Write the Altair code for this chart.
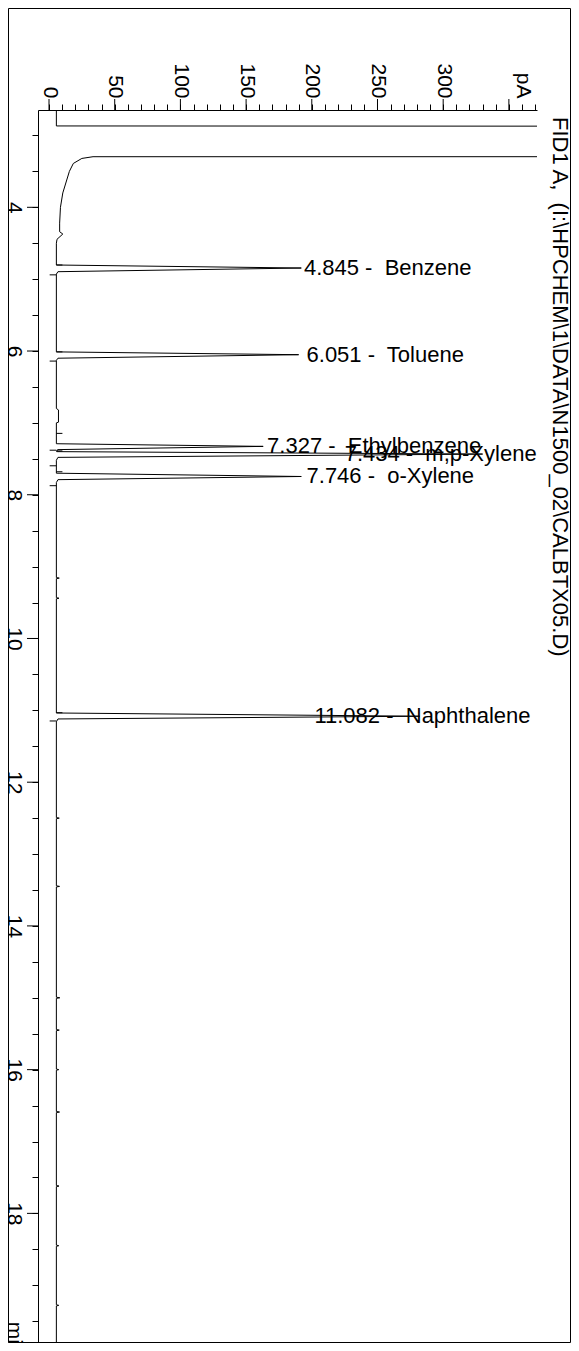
import altair as alt
import pandas as pd

FONT = "Liberation Sans"

# ---- chromatogram trace (time in min, signal in pA) ----
trace_t = [
    2.646, 2.868, 2.871, 2.880, 3.280, 3.294, 3.296, 3.320, 3.390, 3.500,
    3.620, 3.800, 4.000, 4.220, 4.340, 4.372, 4.445, 4.500,
    4.803, 4.845, 4.896, 4.930,
    6.012, 6.051, 6.100, 6.130,
    6.800, 6.820, 6.990, 7.000,
    7.290, 7.327, 7.372, 7.400, 7.434, 7.480, 7.520,
    7.700, 7.746, 7.790, 7.830,
    9.152, 9.160, 9.168, 9.432, 9.440, 9.448,
    11.037, 11.082, 11.120, 11.160,
    12.492, 12.500, 12.508, 13.442, 13.450, 13.458,
    14.992, 15.000, 15.008, 15.442, 15.450, 15.458,
    15.992, 16.000, 16.008, 16.582, 16.590, 16.598,
    17.612, 17.620, 17.628, 18.442, 18.450, 18.458,
    19.272, 19.280, 19.288, 19.846,
]
trace_pa = [
    5.6, 5.6, 400, 3000, 3000, 3000, 33.5, 25.0, 18.5, 15.5,
    13.5, 10.5, 8.7, 8.1, 8.1, 10.5, 6.1, 5.6,
    5.6, 192, 6.8, 5.6,
    5.6, 190, 6.8, 5.6,
    5.6, 7.2, 7.2, 5.6,
    5.6, 163, 6.5, 5.8, 330, 6.8, 5.6,
    5.6, 192, 6.8, 5.6,
    5.6, 7.8, 5.6, 5.6, 7.6, 5.6,
    5.6, 282, 6.8, 5.6,
    5.6, 7.8, 5.6, 5.6, 8.0, 5.6,
    5.6, 8.2, 5.6, 5.6, 7.8, 5.6,
    5.6, 7.4, 5.6, 5.6, 8.0, 5.6,
    5.6, 7.6, 5.6, 5.6, 7.4, 5.6,
    5.6, 7.4, 5.6, 5.6,
]

# ---- peak annotations ----
peak_t = [4.845, 6.051, 7.327, 7.434, 7.746, 11.082]
peak_label_pa = [194, 196, 166, 225, 196, 202]
peak_names = ["Benzene", "Toluene", "Ethylbenzene", "m,p-Xylene", "o-Xylene", "Naphthalene"]
peak_texts = [f"{t:.3f} -\u00a0 {n}" for t, n in zip(peak_t, peak_names)]

# baseline start / end markers of the integrated peaks
marker_start_t = [4.803, 6.012, 7.146, 7.390, 7.680, 11.033]
marker_end_t = [4.940, 6.140, 7.380, 7.597, 7.874, 11.148]

TITLE = "FID1 A,\u00a0 (I:\\HPCHEM\\1\\DATA\\N1500_02\\CALBTX05.D)"

# ---- axes ----
x_ticks = list(range(0, 371, 10))
x_major = [0, 50, 100, 150, 200, 250, 300, 350]
y_ticks = [3.0 + 0.5 * k for k in range(34)]
y_major = [4, 6, 8, 10, 12, 14, 16, 18]

W, H = 499, 1232
xs = alt.Scale(domain=[-8.38, 371.4], nice=False, zero=False)
ys = alt.Scale(domain=[2.646, 19.790], reverse=True, nice=False, zero=False)

df_trace = pd.DataFrame({"i": list(range(len(trace_t))), "t": trace_t, "pa": trace_pa})
df_lab = pd.DataFrame({"t": peak_t, "pa": peak_label_pa, "label": peak_texts})
base_level = 5.6
df_mk = pd.DataFrame({
    "t": marker_start_t + marker_end_t,
    "p1": [base_level] * len(marker_start_t) + [0.5] * len(marker_end_t),
    "p2": [10.2] * len(marker_start_t) + [base_level] * len(marker_end_t),
})

x_axis = alt.Axis(
    orient="top", values=x_ticks, title=None, grid=False,
    labelExpr="datum.value == 360 ? 'pA' : (datum.value % 50 == 0 && datum.value <= 300 ? '' + datum.value : '')",
    labelAngle=90, labelAlign="right", labelBaseline="middle",
    tickSize=6, labelPadding=6, labelFontSize=21, labelFont=FONT,
    labelColor="black", domainColor="black", tickColor="black",
    labelOverlap=False, labelFlush=False, domainWidth=1, tickWidth=1,
)
y_axis = alt.Axis(
    orient="left", values=y_ticks, title=None, grid=False,
    labelExpr="datum.value == 19.5 ? 'min' : (datum.value % 2 == 0 ? '' + datum.value : '')",
    labelAngle=90,
    labelAlign={"condition": {"test": "datum.value == 19.5", "value": "left"}, "value": "center"},
    labelBaseline="top",
    tickSize=6, labelPadding=7.5, labelFontSize=21, labelFont=FONT,
    labelColor="black", domainColor="black", tickColor="black",
    labelOverlap=False, labelFlush=False, domainWidth=1, tickWidth=1,
)

one = pd.DataFrame({"a": [0]})
# outer frame of the picture (sides as rules)
frame_left = alt.Chart(one).mark_rule(color="black", strokeWidth=1).encode(
    x=alt.value(-29.5), y=alt.value(-101.5), y2=alt.value(1232.5))
frame_right = alt.Chart(one).mark_rule(color="black", strokeWidth=1).encode(
    x=alt.value(532.5), y=alt.value(-101.5), y2=alt.value(1232.5))
frame_top = alt.Chart(one).mark_rule(color="black", strokeWidth=1).encode(
    y=alt.value(-101.5), x=alt.value(-29.5), x2=alt.value(532.5))
frame_bottom = alt.Chart(one).mark_rule(color="black", strokeWidth=1).encode(
    y=alt.value(1232.5), x=alt.value(-29.5), x2=alt.value(532.5))

title_mark = alt.Chart(one).mark_text(
    angle=90, align="left", baseline="alphabetic", fontSize=22, font=FONT, color="black"
).encode(
    x=alt.value(515), y=alt.value(7), text=alt.value(TITLE)
)

trace = alt.Chart(df_trace).mark_line(color="black", strokeWidth=1, clip=True).encode(
    x=alt.X("pa:Q", scale=xs, axis=x_axis),
    y=alt.Y("t:Q", scale=ys, axis=y_axis),
    order=alt.Order("i:Q"),
)

x_major_ticks = alt.Chart(pd.DataFrame({"pa": x_major})).mark_rule(color="black", strokeWidth=1).encode(
    x=alt.X("pa:Q", scale=xs, axis=x_axis), y=alt.value(-11), y2=alt.value(0)
)
y_major_ticks = alt.Chart(pd.DataFrame({"t": y_major})).mark_rule(color="black", strokeWidth=1).encode(
    y=alt.Y("t:Q", scale=ys, axis=y_axis), x=alt.value(-11), x2=alt.value(0)
)

markers = alt.Chart(df_mk).mark_rule(color="black", strokeWidth=1).encode(
    y=alt.Y("t:Q", scale=ys, axis=y_axis),
    x=alt.X("p1:Q", scale=xs, axis=x_axis),
    x2="p2:Q",
)

labels = alt.Chart(df_lab).mark_text(
    align="left", baseline="middle", fontSize=22, font=FONT, color="black"
).encode(
    x=alt.X("pa:Q", scale=xs, axis=x_axis),
    y=alt.Y("t:Q", scale=ys, axis=y_axis),
    text="label:N",
)

chart = alt.layer(
    frame_left, frame_right, frame_top, frame_bottom,
    trace, markers, x_major_ticks, y_major_ticks, labels, title_mark
).properties(
    width=W, height=H,
    background="white",
    autosize=alt.AutoSizeParams(type="none"),
    padding={"left": 30, "top": 102, "right": 34, "bottom": 1},
).configure_view(stroke="transparent", strokeWidth=0)

chart.save("out.html", embed_options={"renderer": "svg", "actions": False})
